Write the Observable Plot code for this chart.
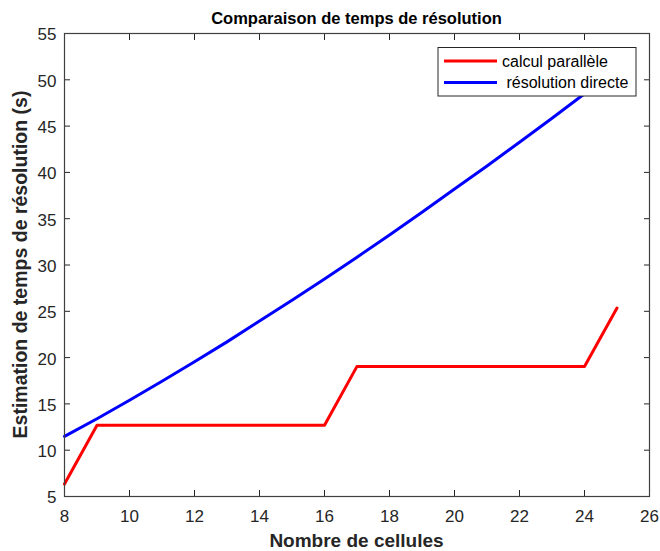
<!DOCTYPE html>
<html>
<head>
<meta charset="utf-8">
<script src="https://cdn.jsdelivr.net/npm/d3@7"></script>
<script src="https://cdn.jsdelivr.net/npm/@observablehq/plot@0.6"></script>
<style>
  html, body { margin: 0; padding: 0; background: #fff; }
  #chart svg { display: block; }
</style>
</head>
<body>
<div id="chart"></div>
<script>
// ---- data ----
const cells = [8, 9, 10, 11, 12, 13, 14, 15, 16, 17, 18, 19, 20, 21, 22, 23, 24, 25];
const parallelTime = [6.35, 12.7, 12.7, 12.7, 12.7, 12.7, 12.7, 12.7, 12.7, 19.05, 19.05, 19.05, 19.05, 19.05, 19.05, 19.05, 19.05, 25.35];
const directTime = [11.5, 13.4, 15.4, 17.45, 19.55, 21.7, 23.95, 26.2, 28.5, 30.85, 33.25, 35.7, 38.2, 40.7, 43.25, 45.85, 48.5, 51.15];
const xTicks = [8, 10, 12, 14, 16, 18, 20, 22, 24, 26];
const yTicks = [5, 10, 15, 20, 25, 30, 35, 40, 45, 50, 55];
const seriesNames = ["calcul parallèle", " résolution directe"];
const seriesColors = ["#ff0000", "#0000ff"];
const titleText = "Comparaison de temps de résolution";
const xLabel = "Nombre de cellules";
const yLabel = "Estimation de temps de résolution (s)";

const rows = [];
cells.forEach((c, i) => {
  rows.push({x: c, y: parallelTime[i], s: seriesNames[0]});
});
cells.forEach((c, i) => {
  rows.push({x: c, y: directTime[i], s: seriesNames[1]});
});

const W = 660, H = 551;
const mL = 64, mR = 11, mT = 33, mB = 55;
const axisColor = "#262626";
const font = "'Liberation Sans', Arial, Helvetica, sans-serif";

const plot = Plot.plot({
  width: W,
  height: H,
  marginLeft: mL,
  marginRight: mR,
  marginTop: mT,
  marginBottom: mB,
  style: {fontFamily: font, fontSize: "17px", color: axisColor, background: "#fff"},
  x: {domain: [8, 26]},
  y: {domain: [5, 55]},
  color: {domain: seriesNames, range: seriesColors},
  marks: [
    Plot.line(rows.filter(d => d.s === seriesNames[1]), {x: "x", y: "y", stroke: "s", strokeWidth: 3, curve: "linear"}),
    Plot.line(rows.filter(d => d.s === seriesNames[0]), {x: "x", y: "y", stroke: "s", strokeWidth: 3, curve: "linear"}),
    Plot.axisX(xTicks, {anchor: "bottom", tickSize: 0, tickPadding: 13, label: null, fill: axisColor, fontSize: 17}),
    Plot.axisX(xTicks, {anchor: "bottom", tickSize: -6, text: null, label: null, stroke: axisColor, strokeWidth: 1}),
    Plot.axisX(xTicks, {anchor: "top", tickSize: -6, text: null, label: null, stroke: axisColor, strokeWidth: 1}),
    Plot.axisY(yTicks, {anchor: "left", tickSize: 0, tickPadding: 8, dy: 1.5, label: null, fill: axisColor, fontSize: 17}),
    Plot.axisY(yTicks, {anchor: "left", tickSize: -6, text: null, label: null, stroke: axisColor, strokeWidth: 1}),
    Plot.axisY(yTicks, {anchor: "right", tickSize: -6, text: null, label: null, stroke: axisColor, strokeWidth: 1}),
    Plot.frame({stroke: "#404040", strokeWidth: 1.2})
  ]
});

const svg = d3.select(plot);
const cx = mL + (W - mL - mR) / 2;
const cy = mT + (H - mT - mB) / 2;

svg.append("text")
  .attr("x", cx).attr("y", 24)
  .attr("text-anchor", "middle")
  .attr("font-family", font).attr("font-weight", "bold").attr("font-size", 16.5)
  .attr("fill", "#000")
  .text(titleText);

svg.append("text")
  .attr("x", cx).attr("y", 547)
  .attr("text-anchor", "middle")
  .attr("font-family", font).attr("font-weight", "bold").attr("font-size", 19)
  .attr("fill", axisColor)
  .text(xLabel);

svg.append("text")
  .attr("transform", `translate(27,${cy}) rotate(-90)`)
  .attr("text-anchor", "middle")
  .attr("font-family", font).attr("font-weight", "bold").attr("font-size", 19.5)
  .attr("fill", axisColor)
  .text(yLabel);

// legend
const lg = svg.append("g");
lg.append("rect")
  .attr("x", 438).attr("y", 47.5).attr("width", 198).attr("height", 48.5)
  .attr("fill", "#fff").attr("stroke", axisColor).attr("stroke-width", 1);
seriesNames.forEach((name, i) => {
  const yy = 61 + i * 21.5;
  lg.append("line")
    .attr("x1", 444).attr("x2", 497).attr("y1", yy).attr("y2", yy)
    .attr("stroke", seriesColors[i]).attr("stroke-width", 3);
  lg.append("text")
    .attr("x", 502).attr("y", yy)
    .attr("dy", "0.35em")
    .attr("text-anchor", "start")
    .attr("xml:space", "preserve")
    .style("white-space", "pre")
    .attr("font-family", font).attr("font-size", 16)
    .attr("fill", "#000")
    .text(name);
});

document.getElementById("chart").appendChild(plot);
</script>
</body>
</html>
